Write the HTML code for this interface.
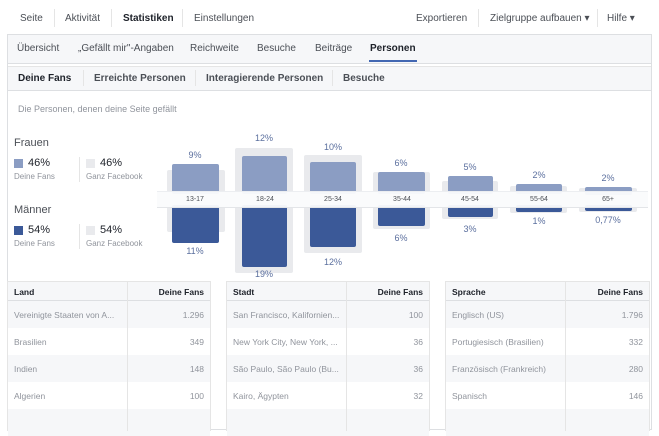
<!DOCTYPE html>
<html><head><meta charset="utf-8"><style>
*{margin:0;padding:0;box-sizing:border-box}
body{width:659px;height:430px;background:#fff;font-family:"Liberation Sans",sans-serif;position:relative;overflow:hidden;color:#4b4f56}
.a{position:absolute;white-space:nowrap}
.t{font-size:10px}
.b{position:absolute}
.fb{background:#8b9dc3;border-radius:2px}
.mb{background:#3b5998;border-radius:2px}
.g{background:#e9eaed;border-radius:2px}
.pl{position:absolute;font-size:9px;color:#5b6f9e;text-align:center;width:60px}
.ax{position:absolute;font-size:7px;color:#4b4f56;text-align:center;width:50px;top:196px}
.tb{position:absolute;top:281px;height:150px;border-left:1px solid #e5e5e5;border-right:1px solid #e5e5e5}
.row{position:absolute;left:0;right:0;height:27px;font-size:8.5px;color:#90949c}
.row span{position:absolute;top:9px}
</style></head><body>
<div class="b" style="left:7px;top:0;width:645px;height:430px;border:1px solid #dddfe2;border-top:none"></div>
<!-- top nav -->
<div class="b" style="left:7px;top:0;width:645px;height:35px;border-bottom:1px solid #dddfe2;background:#fff"></div>
<div class="a t" style="left:20px;top:13px">Seite</div>
<div class="b" style="left:54px;top:9px;width:1px;height:18px;background:#e5e5e5"></div>
<div class="a t" style="left:65px;top:13px">Aktivität</div>
<div class="b" style="left:111px;top:9px;width:1px;height:18px;background:#e5e5e5"></div>
<div class="a t" style="left:123px;top:13px;font-weight:bold;color:#1d2129">Statistiken</div>
<div class="b" style="left:182px;top:9px;width:1px;height:18px;background:#e5e5e5"></div>
<div class="a t" style="left:194px;top:13px">Einstellungen</div>
<div class="a t" style="left:416px;top:13px">Exportieren</div>
<div class="b" style="left:478px;top:9px;width:1px;height:18px;background:#e5e5e5"></div>
<div class="a t" style="left:490px;top:13px">Zielgruppe aufbauen ▾</div>
<div class="b" style="left:597px;top:9px;width:1px;height:18px;background:#e5e5e5"></div>
<div class="a t" style="left:607px;top:13px">Hilfe ▾</div>
<!-- second nav -->
<div class="b" style="left:8px;top:35px;width:643px;height:29px;background:#f6f7f9;border-bottom:1px solid #dddfe2"></div>
<div class="a t" style="left:17px;top:43px">Übersicht</div>
<div class="a t" style="left:78px;top:43px">„Gefällt mir"-Angaben</div>
<div class="a t" style="left:190px;top:43px">Reichweite</div>
<div class="a t" style="left:257px;top:43px">Besuche</div>
<div class="a t" style="left:315px;top:43px">Beiträge</div>
<div class="a t" style="left:370px;top:43px;font-weight:bold;color:#1d2129">Personen</div>
<div class="b" style="left:369px;top:60px;width:48px;height:2px;background:#4267b2"></div>
<!-- third tabs -->
<div class="b" style="left:8px;top:66px;width:643px;height:25px;background:#f6f7f9;border-bottom:1px solid #dddfe2;border-top:1px solid #e5e5e5"></div>
<div class="a t" style="left:18px;top:73px;font-weight:bold;color:#1d2129">Deine Fans</div>
<div class="a t" style="left:94px;top:73px;font-weight:bold">Erreichte Personen</div>
<div class="a t" style="left:206px;top:73px;font-weight:bold">Interagierende Personen</div>
<div class="a t" style="left:343px;top:73px;font-weight:bold">Besuche</div>
<div class="b" style="left:83px;top:70px;width:1px;height:16px;background:#e5e5e5"></div>
<div class="b" style="left:195px;top:70px;width:1px;height:16px;background:#e5e5e5"></div>
<div class="b" style="left:332px;top:70px;width:1px;height:16px;background:#e5e5e5"></div>
<div class="a" style="left:18px;top:104px;font-size:9px;color:#90949c">Die Personen, denen deine Seite gefällt</div>
<!-- legend -->
<div class="a" style="left:14px;top:137px;font-size:11px">Frauen</div>
<div class="b" style="left:14px;top:159px;width:9px;height:9px;background:#8b9dc3"></div>
<div class="a" style="left:28px;top:157px;font-size:11px;color:#1d2129">46%</div>
<div class="a" style="left:14px;top:172px;font-size:8px;color:#90949c">Deine Fans</div>
<div class="b" style="left:79px;top:157px;width:1px;height:25px;background:#e5e5e5"></div>
<div class="b" style="left:86px;top:159px;width:9px;height:9px;background:#e9eaed"></div>
<div class="a" style="left:100px;top:157px;font-size:11px;color:#1d2129">46%</div>
<div class="a" style="left:86px;top:172px;font-size:8px;color:#90949c">Ganz Facebook</div>
<div class="a" style="left:14px;top:204px;font-size:11px">Männer</div>
<div class="b" style="left:14px;top:226px;width:9px;height:9px;background:#3b5998"></div>
<div class="a" style="left:28px;top:224px;font-size:11px;color:#1d2129">54%</div>
<div class="a" style="left:14px;top:239px;font-size:8px;color:#90949c">Deine Fans</div>
<div class="b" style="left:79px;top:224px;width:1px;height:25px;background:#e5e5e5"></div>
<div class="b" style="left:86px;top:226px;width:9px;height:9px;background:#e9eaed"></div>
<div class="a" style="left:100px;top:224px;font-size:11px;color:#1d2129">54%</div>
<div class="a" style="left:86px;top:239px;font-size:8px;color:#90949c">Ganz Facebook</div>
<!-- gray backgrounds -->
<div class="b g" style="left:167px;top:170px;width:58px;height:62px"></div>
<div class="b g" style="left:235px;top:148px;width:58px;height:125px"></div>
<div class="b g" style="left:304px;top:155px;width:58px;height:98px"></div>
<div class="b g" style="left:373px;top:172px;width:57px;height:57px"></div>
<div class="b g" style="left:442px;top:181px;width:56px;height:38px"></div>
<div class="b g" style="left:510px;top:186px;width:57px;height:27px"></div>
<div class="b g" style="left:579px;top:188px;width:58px;height:24px"></div>
<!-- female bars -->
<div class="b fb" style="left:172px;top:164px;width:47px;height:30px"></div>
<div class="b fb" style="left:242px;top:156px;width:45px;height:38px"></div>
<div class="b fb" style="left:310px;top:162px;width:46px;height:32px"></div>
<div class="b fb" style="left:378px;top:172px;width:47px;height:22px"></div>
<div class="b fb" style="left:448px;top:176px;width:45px;height:18px"></div>
<div class="b fb" style="left:516px;top:184px;width:46px;height:10px"></div>
<div class="b fb" style="left:585px;top:187px;width:47px;height:8px"></div>
<!-- male bars -->
<div class="b mb" style="left:172px;top:205px;width:47px;height:38px"></div>
<div class="b mb" style="left:242px;top:205px;width:45px;height:62px"></div>
<div class="b mb" style="left:310px;top:205px;width:46px;height:42px"></div>
<div class="b mb" style="left:378px;top:205px;width:47px;height:21px"></div>
<div class="b mb" style="left:448px;top:205px;width:45px;height:12px"></div>
<div class="b mb" style="left:516px;top:205px;width:46px;height:7px"></div>
<div class="b mb" style="left:585px;top:205px;width:47px;height:6px"></div>
<!-- axis band -->
<div class="b" style="left:157px;top:191px;width:491px;height:17px;background:rgba(250,251,252,0.96);border-top:1px solid #eceef1;border-bottom:1px solid #e3e5e8"></div>
<div class="ax" style="left:170px">13-17</div>
<div class="ax" style="left:240px">18-24</div>
<div class="ax" style="left:308px">25-34</div>
<div class="ax" style="left:377px">35-44</div>
<div class="ax" style="left:445px">45-54</div>
<div class="ax" style="left:514px">55-64</div>
<div class="ax" style="left:583px">65+</div>
<!-- labels -->
<div class="pl" style="left:165px;top:150px">9%</div>
<div class="pl" style="left:234px;top:133px">12%</div>
<div class="pl" style="left:303px;top:142px">10%</div>
<div class="pl" style="left:371px;top:158px">6%</div>
<div class="pl" style="left:440px;top:162px">5%</div>
<div class="pl" style="left:509px;top:170px">2%</div>
<div class="pl" style="left:578px;top:173px">2%</div>
<div class="pl" style="left:165px;top:246px">11%</div>
<div class="pl" style="left:234px;top:269px">19%</div>
<div class="pl" style="left:303px;top:257px">12%</div>
<div class="pl" style="left:371px;top:233px">6%</div>
<div class="pl" style="left:440px;top:224px">3%</div>
<div class="pl" style="left:509px;top:216px">1%</div>
<div class="pl" style="left:578px;top:215px">0,77%</div>
<!-- tables -->
<div class="tb" style="left:7px;width:204px">
 <div class="row" style="top:0;height:20px;background:#f6f7f9;border-top:1px solid #e5e5e5;border-bottom:1px solid #dddfe2;color:#1d2129;font-weight:bold;font-size:8.5px"><span style="left:6px;top:5px">Land</span><span style="right:6px;top:5px">Deine Fans</span></div>
 <div class="row" style="top:20px;background:#f6f7f9"><span style="left:6px">Vereinigte Staaten von A...</span><span style="right:6px">1.296</span></div>
 <div class="row" style="top:47px"><span style="left:6px">Brasilien</span><span style="right:6px">349</span></div>
 <div class="row" style="top:74px;background:#f6f7f9"><span style="left:6px">Indien</span><span style="right:6px">148</span></div>
 <div class="row" style="top:101px"><span style="left:6px">Algerien</span><span style="right:6px">100</span></div>
 <div class="row" style="top:128px;background:#f6f7f9"></div>
 <div class="b" style="left:119px;top:0;width:1px;height:150px;background:#e5e5e5"></div>
</div>
<div class="tb" style="left:226px;width:204px">
 <div class="row" style="top:0;height:20px;background:#f6f7f9;border-top:1px solid #e5e5e5;border-bottom:1px solid #dddfe2;color:#1d2129;font-weight:bold;font-size:8.5px"><span style="left:6px;top:5px">Stadt</span><span style="right:6px;top:5px">Deine Fans</span></div>
 <div class="row" style="top:20px;background:#f6f7f9"><span style="left:6px">San Francisco, Kalifornien...</span><span style="right:6px">100</span></div>
 <div class="row" style="top:47px"><span style="left:6px">New York City, New York, ...</span><span style="right:6px">36</span></div>
 <div class="row" style="top:74px;background:#f6f7f9"><span style="left:6px">São Paulo, São Paulo (Bu...</span><span style="right:6px">36</span></div>
 <div class="row" style="top:101px"><span style="left:6px">Kairo, Ägypten</span><span style="right:6px">32</span></div>
 <div class="row" style="top:128px;background:#f6f7f9"></div>
 <div class="b" style="left:119px;top:0;width:1px;height:150px;background:#e5e5e5"></div>
</div>
<div class="tb" style="left:445px;width:205px">
 <div class="row" style="top:0;height:20px;background:#f6f7f9;border-top:1px solid #e5e5e5;border-bottom:1px solid #dddfe2;color:#1d2129;font-weight:bold;font-size:8.5px"><span style="left:6px;top:5px">Sprache</span><span style="right:6px;top:5px">Deine Fans</span></div>
 <div class="row" style="top:20px;background:#f6f7f9"><span style="left:6px">Englisch (US)</span><span style="right:6px">1.796</span></div>
 <div class="row" style="top:47px"><span style="left:6px">Portugiesisch (Brasilien)</span><span style="right:6px">332</span></div>
 <div class="row" style="top:74px;background:#f6f7f9"><span style="left:6px">Französisch (Frankreich)</span><span style="right:6px">280</span></div>
 <div class="row" style="top:101px"><span style="left:6px">Spanisch</span><span style="right:6px">146</span></div>
 <div class="row" style="top:128px;background:#f6f7f9"></div>
 <div class="b" style="left:119px;top:0;width:1px;height:150px;background:#e5e5e5"></div>
</div>
</body></html>
